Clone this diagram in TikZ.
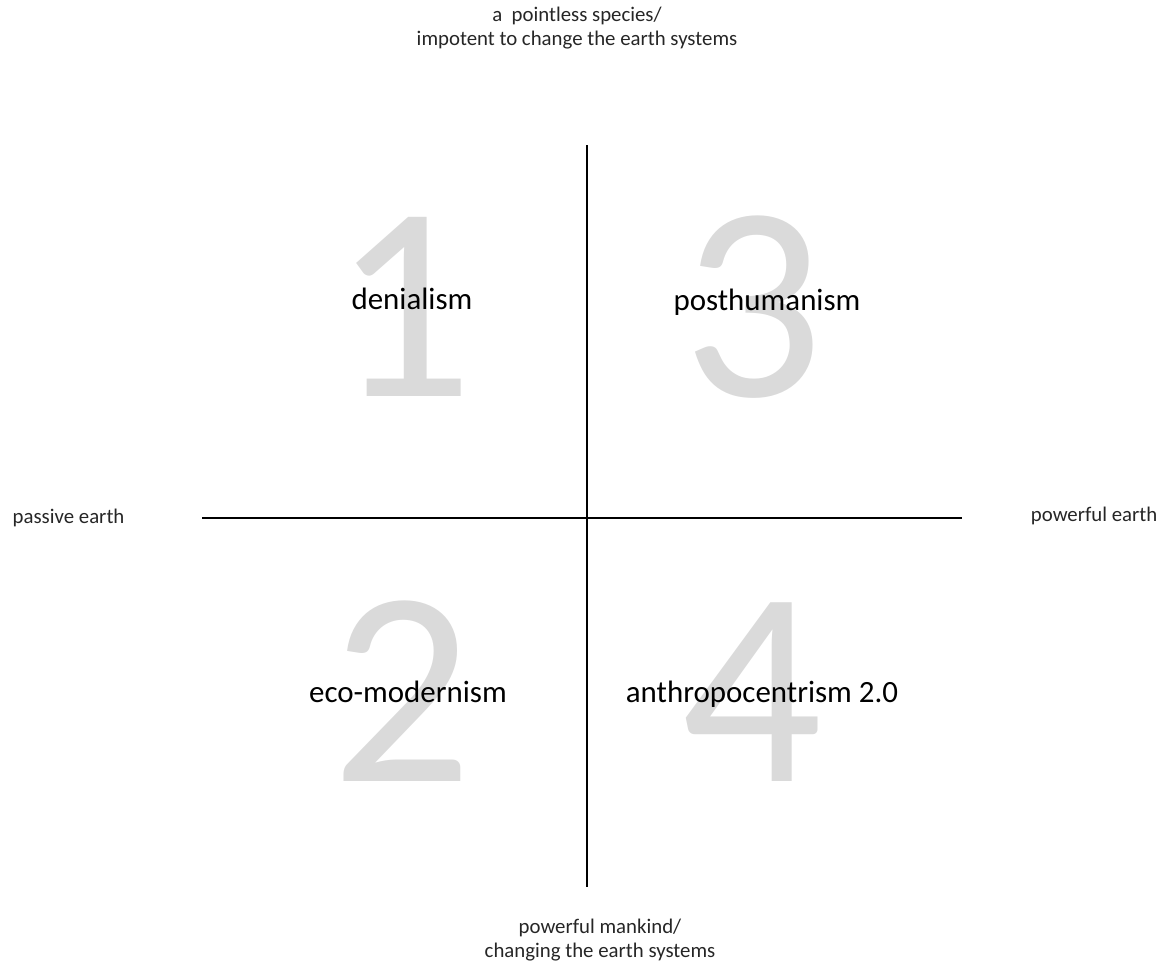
\documentclass[tikz,border=0pt]{standalone}
\usepackage{fontspec}
\setmainfont{Carlito}
\usetikzlibrary{positioning}
\definecolor{cnum}{HTML}{DADADA}
\definecolor{ctext}{HTML}{262626}
\tikzset{
  every picture/.style={font=\rmfamily, line width=1pt},
  bignum/.style={text=cnum, anchor=base, inner sep=0pt, font=\fontsize{198}{198}\selectfont},
  quadlabel/.style={text=black, anchor=base, inner sep=0pt, font=\fontsize{22}{26}\selectfont},
  axislabel/.style={text=ctext, align=center, inner sep=0pt, font=\fontsize{14.8}{17.5}\selectfont},
  axis/.style={draw=black, line width=1pt},
}
\begin{document}
\begin{tikzpicture}[x=0.025cm, y=-0.025cm]
  \useasboundingbox (0,0) rectangle (1162,968);
  % big numbers behind the quadrants
  \node[bignum] (n1) at (403,396) {1};
  \node[bignum] (n3) at (753,396) {3};
  \node[bignum] (n2) at (402,781) {2};
  \node[bignum] (n4) at (752,781) {4};
  % axes
  \coordinate (top) at (587,145);
  \coordinate (bot) at (587,887);
  \coordinate (left) at (202,518);
  \coordinate (right) at (962,518);
  \draw[axis] (top) -- (bot);
  \draw[axis] (left) -- (right);
  % quadrant names
  \node[quadlabel] (q1) at (412,309) {denialism};
  \node[quadlabel] (q3) at (767,310) {posthumanism};
  \node[quadlabel] (q2) at (408,702) {eco-modernism};
  \node[quadlabel] (q4) at (762,702) {anthropocentrism 2.0};
  % axis ends
  \node[axislabel] (ltop) at (577,28) {a\ \ pointless species/\\impotent to change the earth systems};
  \node[axislabel] (lbot) at (600,940) {powerful mankind/\\changing the earth systems};
  \node[axislabel, anchor=west] (lleft) at (12,518) {passive earth};
  \node[axislabel, anchor=east] (lright) at (1158,516) {powerful earth};
\end{tikzpicture}
\end{document}
